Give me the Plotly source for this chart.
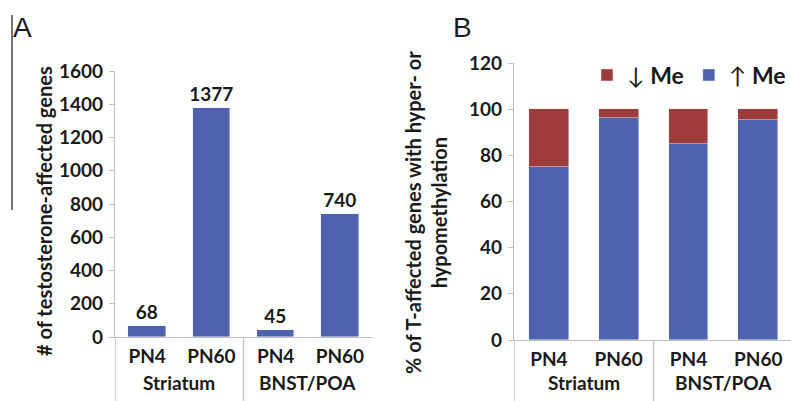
import plotly.graph_objects as go

# ---- data ----
stages = ["PN4", "PN60", "PN4", "PN60"]
regions = ["Striatum", "BNST/POA"]
genes_affected = [68, 1377, 45, 740]
pct_hyper = [75, 96, 85, 95.5]      # ↑ Me
pct_hypo = [25, 4, 15, 4.5]         # ↓ Me
yticks_a = [0, 200, 400, 600, 800, 1000, 1200, 1400, 1600]
yticks_b = [0, 20, 40, 60, 80, 100, 120]

BLUE = "#4F62AD"
RED = "#9E3B3C"
AXIS = "#BFBFBF"
TXT = "#1a1a1a"
FONT = "Lato"
FS = 19

xpos = list(range(len(stages)))

fig = go.Figure()

fig.add_trace(go.Bar(
    x=xpos, y=genes_affected, marker_color=BLUE, width=0.58,
    text=[str(v) for v in genes_affected], textposition="outside", constraintext="none",
    textfont=dict(family=FONT, size=FS, color=TXT, weight="bold"),
    cliponaxis=False, showlegend=False, xaxis="x", yaxis="y"))

fig.add_trace(go.Bar(
    x=xpos, y=pct_hyper, marker_color=BLUE, width=0.57, name="↑ <b>Me</b>",
    xaxis="x2", yaxis="y2"))
fig.add_trace(go.Bar(
    x=xpos, y=pct_hypo, marker_color=RED, width=0.57, name="↓ <b>Me</b>",
    xaxis="x2", yaxis="y2"))

tickfont = dict(family=FONT, size=FS, color=TXT, weight="bold")

common_x = dict(showgrid=False, zeroline=False, showline=True, linecolor=AXIS,
                linewidth=1.3, tickvals=xpos, ticktext=stages, ticks="",
                tickfont=tickfont, ticklabelstandoff=2, automargin=False)
common_y = dict(showgrid=False, zeroline=False, showline=True, linecolor=AXIS,
                linewidth=1.3, ticks="outside", ticklen=5, tickcolor=AXIS,
                tickfont=tickfont, ticklabelstandoff=2, automargin=False)

fig.update_layout(
    width=791, height=401,
    margin=dict(l=0, r=0, t=0, b=0, autoexpand=False),
    paper_bgcolor="white", plot_bgcolor="white",
    barmode="stack", bargap=0,
    showlegend=True,
    legend=dict(orientation="h", x=1.0, y=1-75/401, xanchor="right", yanchor="middle",
                traceorder="reversed", font=dict(family=FONT, size=23, color=TXT),
                itemwidth=30, tracegroupgap=0, bgcolor="rgba(0,0,0,0)"),
    xaxis=dict(domain=[115/791, 372/791], range=[-0.5, 3.5], anchor="y", **common_x),
    yaxis=dict(domain=[1-337/401, 1-71/401], range=[0, 1600], tickvals=yticks_a,
               anchor="x", **common_y),
    xaxis2=dict(domain=[514/791, 1.0], range=[-0.5, 3.47], anchor="y2", **common_x),
    yaxis2=dict(domain=[1-340/401, 1-63/401], range=[0, 120], tickvals=yticks_b,
                anchor="x2", **common_y),
)

# group labels and dividers
group_centers = [0.5, 2.5]
for xa, ya, yb in [("x", 1-337/401, 1-382/401), ("x2", 1-340/401, 1-382/401)]:
    for gc, name in zip(group_centers, regions):
        fig.add_annotation(x=gc, y=yb, xref=xa, yref="paper", text=name, showarrow=False,
                           font=tickfont, xanchor="center", yanchor="middle")
    for xd in [-0.5, 1.5]:
        fig.add_shape(type="line", xref=xa, yref="paper", x0=xd, x1=xd, y0=0, y1=ya,
                      line=dict(color=AXIS, width=1.3))

# y-axis titles
fig.add_annotation(x=44/791, y=1-211/401, xref="paper", yref="paper",
                   text="# of testosterone-affected genes", textangle=-90, showarrow=False,
                   font=dict(family=FONT, size=20, color=TXT, weight="bold"),
                   xanchor="center", yanchor="middle")
fig.add_annotation(x=426/791, y=1-213/401, xref="paper", yref="paper",
                   text="% of T-affected genes with hyper- or<br>hypomethylation", textangle=-90,
                   showarrow=False, font=dict(family=FONT, size=20, color=TXT, weight="bold"),
                   xanchor="center", yanchor="middle")

# panel letters
for letter, px in [("A", 22), ("B", 462)]:
    fig.add_annotation(x=px/791, y=1-27/401, xref="paper", yref="paper", text=letter,
                       showarrow=False, font=dict(family="Liberation Sans", size=28, color=TXT),
                       xanchor="center", yanchor="middle")

# left border line of panel A
fig.add_shape(type="line", xref="paper", yref="paper", x0=12/791, x1=12/791,
              y0=1-210/401, y1=1-15/401, line=dict(color="#444444", width=1.5))

fig.write_html("out.html", config={"displayModeBar": False},
               post_script="document.body.style.margin='0px';document.body.style.overflow='hidden';")
